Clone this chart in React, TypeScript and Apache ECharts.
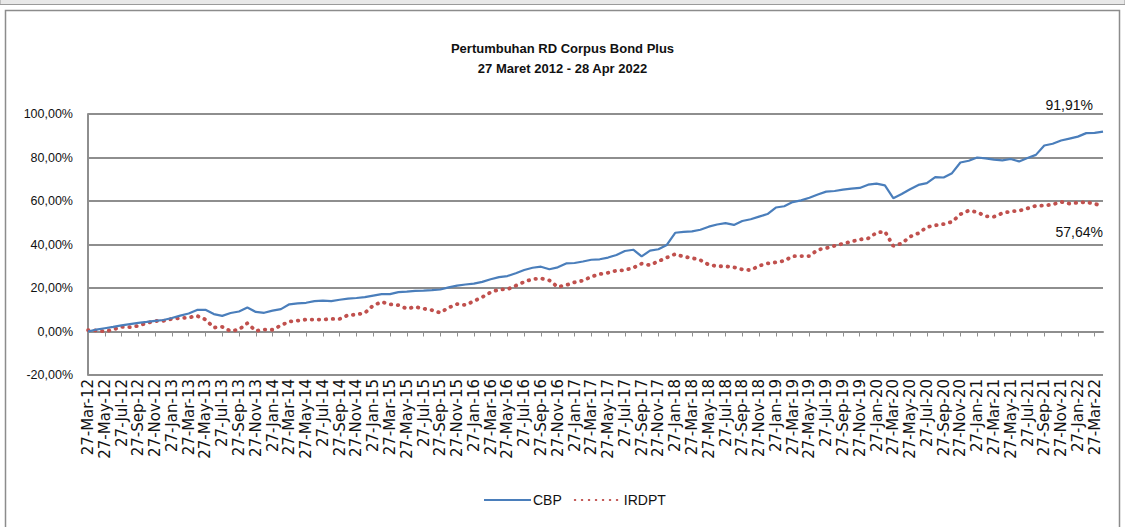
import React, { useEffect, useRef } from "react";
import * as echarts from "echarts";

const MONTHS = ["Jan", "Feb", "Mar", "Apr", "May", "Jun", "Jul", "Aug", "Sep", "Oct", "Nov", "Dec"];
const START_YEAR = 2012;
const START_MONTH = 2; // March
const N_POINTS = 122;

// one label per month, 27-Mar-12 ... 27-Apr-22
const categories: string[] = [];
for (let i = 0; i < N_POINTS; i++) {
  const m = (START_MONTH + i) % 12;
  const y = START_YEAR + Math.floor((START_MONTH + i) / 12);
  categories.push(`27-${MONTHS[m]}-${String(y).slice(2)}`);
}

const TITLE_LINES = ["Pertumbuhan RD Corpus Bond Plus", "27 Maret 2012 - 28 Apr 2022"];
const SERIES_NAMES = ["CBP", "IRDPT"];
const END_LABELS = ["91,91%", "57,64%"];

const CBP = [
  0, 0.9, 1.5, 2.1, 2.8, 3.4, 4.0, 4.4, 4.9, 5.3,
  6.2, 7.3, 8.3, 9.9, 10.0, 8.0, 7.2, 8.5, 9.2, 11.0,
  9.0, 8.6, 9.6, 10.3, 12.5, 12.9, 13.2, 14.0, 14.2, 14.0,
  14.6, 15.1, 15.4, 15.8, 16.5, 17.2, 17.2, 18.1, 18.3, 18.7,
  18.8, 19.0, 19.3, 20.3, 21.1, 21.6, 22.0, 22.8, 24.0, 25.0,
  25.5, 26.8, 28.3, 29.3, 29.8, 28.6, 29.5, 31.3, 31.5, 32.2,
  33.0, 33.2, 34.0, 35.2, 37.0, 37.6, 34.5, 37.2, 37.8, 39.8,
  45.4, 45.8, 46.0, 46.8, 48.2, 49.2, 49.8, 49.0, 50.8, 51.6,
  52.8, 54.0, 57.0, 57.6, 59.5, 60.3, 61.5, 63.0, 64.3, 64.6,
  65.2, 65.7, 66.0, 67.5, 68.0, 67.2, 61.3, 63.2, 65.4, 67.4,
  68.2, 71.0, 70.8, 72.8, 77.7, 78.5, 80.0, 79.6, 79.0, 78.7,
  79.3, 78.2, 79.8, 81.2, 85.5, 86.3, 87.8, 88.7, 89.6, 91.2,
  91.3, 91.91,
];

const IRDPT = [
  0.6, 0.5, 0.0, 0.9, 2.1, 2.0, 2.6, 3.9, 4.8, 4.9,
  5.8, 6.1, 6.4, 7.2, 5.5, 1.8, 2.1, 0.2, 0.9, 3.8,
  0.3, 0.9, 0.8, 2.8, 4.6, 5.0, 5.5, 5.5, 5.5, 5.8,
  5.8, 7.5, 7.8, 8.5, 12.0, 13.6, 12.5, 12.1, 10.5, 11.3,
  10.5, 9.8, 8.6, 11.0, 12.6, 12.2, 14.0, 15.8, 18.0, 19.3,
  19.4, 21.1, 22.8, 24.1, 24.4, 23.5, 20.5, 21.3, 22.6, 23.4,
  25.2, 26.4, 27.0, 28.0, 28.2, 29.3, 31.2, 30.5, 32.3, 34.0,
  35.6, 34.4, 33.8, 32.8, 30.7, 30.0, 30.0, 29.5, 28.5, 28.2,
  30.2, 31.3, 31.8, 32.5, 34.6, 34.7, 34.7, 37.6, 38.3, 39.4,
  40.4, 41.3, 42.3, 42.8, 45.4, 46.0, 39.3, 40.5, 43.6, 45.2,
  48.0, 48.8, 49.4, 50.4, 53.9, 55.6, 54.9, 53.0, 52.8, 54.4,
  55.2, 55.5, 56.6, 57.8, 57.9, 58.4, 59.6, 58.8, 59.2, 59.5,
  58.7, 57.64,
];

const Y_MIN = -20;
const Y_MAX = 100;
const Y_STEP = 20;

const GRID_COLOR = "#8e8e8e";
const BLUE = "#4a7ebb";
const RED = "#c0504d";

export default function App() {
  const ref = useRef<HTMLDivElement>(null);

  useEffect(() => {
    if (!ref.current) return;
    const chart = echarts.init(ref.current, null, { renderer: "svg" });
    chart.setOption({
      animation: false,
      backgroundColor: "#ffffff",
      title: {
        text: TITLE_LINES.join("\n"),
        left: "center",
        top: 33,
        textStyle: {
          fontFamily: "Liberation Sans",
          fontSize: 13,
          fontWeight: "bold",
          color: "#111",
          lineHeight: 20,
        },
      },
      legend: {
        data: SERIES_NAMES,
        left: 478,
        top: 488,
        itemWidth: 47,
        itemHeight: 10,
        itemGap: 12,
        itemStyle: { opacity: 0, borderWidth: 0 },
        textStyle: { fontFamily: "Liberation Sans", fontSize: 14, color: "#111", padding: [0, 0, 0, -3] },
      },
      grid: { left: 88, right: 22, top: 114, bottom: 152, containLabel: false },
      xAxis: [
        {
          type: "category",
          data: categories,
          boundaryGap: false,
          axisLine: { onZero: true, lineStyle: { color: GRID_COLOR, width: 2 } },
          axisTick: { show: true, interval: 1, length: 5, lineStyle: { color: GRID_COLOR, width: 1 } },
          axisLabel: { show: false },
          splitLine: { show: false },
        },
        {
          type: "category",
          data: categories,
          boundaryGap: false,
          position: "bottom",
          axisLine: { show: false, onZero: false },
          axisTick: { show: false },
          axisLabel: {
            interval: 1,
            rotate: 90,
            margin: 4,
            fontFamily: "DejaVu Sans",
            fontSize: 15,
            color: "#111",
            padding: [8, 0, 0, 0],
          },
          splitLine: { show: false },
        },
      ],
      yAxis: {
        type: "value",
        min: Y_MIN,
        max: Y_MAX,
        interval: Y_STEP,
        axisLine: { show: true, lineStyle: { color: GRID_COLOR, width: 2 } },
        axisTick: { show: false },
        axisLabel: {
          margin: 15,
          fontFamily: "Liberation Sans",
          fontSize: 12.5,
          color: "#111",
          formatter: (v: number) => v.toFixed(2).replace(".", ",") + "%",
        },
        splitLine: { show: true, lineStyle: { color: GRID_COLOR, width: 2 } },
      },
      series: [
        {
          name: SERIES_NAMES[0],
          type: "line",
          xAxisIndex: 0,
          data: CBP,
          showSymbol: false,
          symbol: "none",
          color: BLUE,
          lineStyle: { color: BLUE, width: 2.2 },
          z: 3,
        },
        {
          name: SERIES_NAMES[1],
          type: "line",
          xAxisIndex: 0,
          data: IRDPT,
          showSymbol: false,
          symbol: "none",
          color: RED,
          lineStyle: { color: RED, width: 3.8, type: [0.5, 6.5], cap: "round" },
          z: 2,
        },
      ],
      graphic: [
        {
          type: "rect",
          z: -10,
          shape: { x: 0, y: -5, width: 1125, height: 9.5 },
          style: { fill: "#e8e8e8", stroke: "#9a9a9a", lineWidth: 1 },
        },
        {
          type: "rect",
          z: -10,
          shape: { x: 5.5, y: 10.5, width: 1114, height: 530 },
          style: { fill: "none", stroke: "#8c8c8c", lineWidth: 1.5 },
        },
        {
          type: "text",
          x: 1093,
          y: 105,
          style: {
            text: END_LABELS[0],
            align: "right",
            verticalAlign: "middle",
            fontFamily: "Liberation Sans",
            fontSize: 14,
            fill: "#111",
          },
        },
        {
          type: "text",
          x: 1103,
          y: 232,
          style: {
            text: END_LABELS[1],
            align: "right",
            verticalAlign: "middle",
            fontFamily: "Liberation Sans",
            fontSize: 14,
            fill: "#111",
          },
        },
      ],
    });
    return () => chart.dispose();
  }, []);

  return (
    <div
      ref={ref}
      style={{ position: "absolute", left: 0, top: 0, width: 1125, height: 527 }}
    />
  );
}
